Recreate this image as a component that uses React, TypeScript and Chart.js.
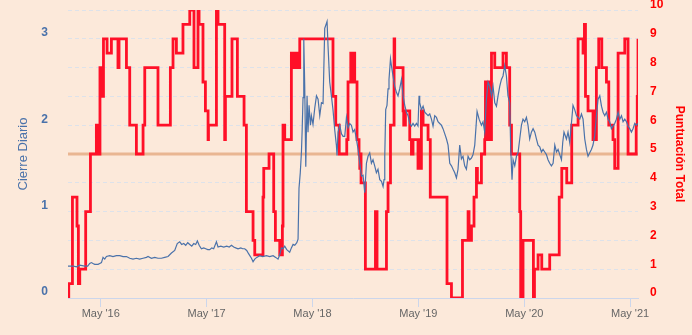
import React, { useEffect, useRef } from 'react';
import { Chart, registerables } from 'chart.js';

Chart.register(...registerables);

// ---- data (dates as decimal years) ----
const scoreDates = [
  2016.020, 2016.027, 2016.062, 2016.105, 2016.118, 2016.131, 2016.187, 2016.232, 2016.288, 2016.313,
  2016.322, 2016.332, 2016.355, 2016.389, 2016.430, 2016.492, 2016.502, 2016.572, 2016.603, 2016.666,
  2016.729, 2016.745, 2016.870, 2016.987, 2017.012, 2017.044, 2017.106, 2017.170, 2017.210, 2017.248,
  2017.258, 2017.295, 2017.318, 2017.343, 2017.347, 2017.422, 2017.437, 2017.500, 2017.507, 2017.569,
  2017.620, 2017.683, 2017.705, 2017.768, 2017.784, 2017.862, 2017.869, 2017.919, 2017.963, 2017.979,
  2018.020, 2018.029, 2018.039, 2018.045, 2018.051, 2018.067, 2018.130, 2018.140, 2018.149, 2018.159,
  2018.171, 2018.185, 2018.209, 2018.523, 2018.549, 2018.582, 2018.653, 2018.665, 2018.691, 2018.703,
  2018.712, 2018.728, 2018.750, 2018.769, 2018.776, 2018.782, 2018.788, 2018.829, 2018.924, 2018.939,
  2019.028, 2019.043, 2019.066, 2019.100, 2019.106, 2019.185, 2019.191, 2019.198, 2019.204, 2019.207,
  2019.248, 2019.264, 2019.279, 2019.326, 2019.336, 2019.345, 2019.358, 2019.374, 2019.421, 2019.442,
  2019.600, 2019.642, 2019.746, 2019.799, 2019.808, 2019.831, 2019.855, 2019.878, 2019.887, 2019.925,
  2019.956, 2019.963, 2019.972, 2019.982, 2019.991, 2020.001, 2020.010, 2020.020, 2020.051, 2020.129,
  2020.161, 2020.192, 2020.209, 2020.287, 2020.296, 2020.318, 2020.416, 2020.426, 2020.460, 2020.495,
  2020.570, 2020.660, 2020.684, 2020.731, 2020.778, 2020.838, 2020.885, 2020.898, 2020.908, 2020.932,
  2020.979, 2020.989, 2020.998, 2021.011, 2021.033, 2021.062, 2021.106, 2021.128, 2021.168, 2021.184,
  2021.216, 2021.279, 2021.310, 2021.387, 2021.397, 2021.404,
];
const scoreValues = [
  0, 0.5, 3.5, 2.5, 0.5, 1, 3, 5, 6, 5,
  8, 7, 9, 8.5, 9, 8, 9, 8, 6, 5,
  6, 8, 6, 8, 9, 8.5, 9.5, 10, 8, 10,
  9.5, 7.5, 6.5, 5.5, 6, 10, 9.5, 5.5, 7, 9,
  7, 6, 3, 2, 1.5, 3.5, 4.5, 5, 3, 2,
  1.5, 2, 1.5, 2.5, 6, 5.5, 8.5, 8, 8.5, 8,
  8.5, 8, 9, 7, 6, 5, 5.5, 7.5, 8.5, 7.5,
  8.5, 7.5, 5.5, 5, 4.5, 5, 4, 1, 3, 1,
  3, 4, 6, 9, 8, 6.5, 6, 6.5, 6, 6.5,
  5.5, 5, 5.5, 4.5, 5.5, 4.5, 6.5, 6, 5.5, 3.5,
  0.5, 0, 2, 3, 2, 2.5, 3.5, 4.5, 4, 5,
  5.5, 7.5, 5.5, 7.5, 5.5, 7.5, 5.5, 8.5, 8, 8.5,
  8, 6, 5, 3, 0, 2, 0, 1, 1.5, 1,
  1.5, 3.5, 4.5, 4, 6, 9, 8.5, 9.5, 7, 6.5,
  5.5, 6.5, 5.5, 8, 9, 8, 7.5, 6, 5.5, 4.5,
  8.5, 9, 5, 6, 7, 9,
];

const closeDates = [
  2016.020, 2016.067, 2016.100, 2016.131, 2016.178, 2016.206, 2016.225, 2016.241, 2016.256, 2016.272,
  2016.304, 2016.320, 2016.336, 2016.351, 2016.367, 2016.383, 2016.414, 2016.445, 2016.477, 2016.509,
  2016.540, 2016.572, 2016.603, 2016.634, 2016.666, 2016.697, 2016.729, 2016.761, 2016.776, 2016.808,
  2016.839, 2016.870, 2016.902, 2016.934, 2016.965, 2016.997, 2017.028, 2017.052, 2017.075, 2017.094,
  2017.113, 2017.132, 2017.151, 2017.170, 2017.189, 2017.208, 2017.226, 2017.242, 2017.259, 2017.280,
  2017.302, 2017.321, 2017.340, 2017.359, 2017.378, 2017.396, 2017.422, 2017.437, 2017.463, 2017.491,
  2017.519, 2017.543, 2017.564, 2017.585, 2017.604, 2017.626, 2017.652, 2017.670, 2017.689, 2017.708,
  2017.727, 2017.753, 2017.768, 2017.784, 2017.803, 2017.831, 2017.859, 2017.894, 2017.925, 2017.957,
  2017.982, 2018.004, 2018.020, 2018.036, 2018.051, 2018.067, 2018.086, 2018.114, 2018.130, 2018.146,
  2018.162, 2018.181, 2018.193, 2018.202, 2018.214, 2018.225, 2018.232, 2018.240, 2018.247, 2018.256,
  2018.266, 2018.278, 2018.287, 2018.297, 2018.310, 2018.319, 2018.334, 2018.351, 2018.367, 2018.382,
  2018.398, 2018.414, 2018.429, 2018.445, 2018.467, 2018.476, 2018.492, 2018.508, 2018.523, 2018.539,
  2018.555, 2018.561, 2018.571, 2018.587, 2018.603, 2018.618, 2018.634, 2018.650, 2018.665, 2018.681,
  2018.697, 2018.712, 2018.728, 2018.744, 2018.760, 2018.776, 2018.792, 2018.807, 2018.823, 2018.839,
  2018.854, 2018.870, 2018.886, 2018.901, 2018.917, 2018.933, 2018.948, 2018.965, 2018.981, 2018.996,
  2019.005, 2019.012, 2019.021, 2019.033, 2019.043, 2019.052, 2019.066, 2019.075, 2019.090, 2019.106,
  2019.122, 2019.137, 2019.153, 2019.170, 2019.185, 2019.201, 2019.217, 2019.232, 2019.248, 2019.264,
  2019.279, 2019.295, 2019.311, 2019.326, 2019.336, 2019.342, 2019.358, 2019.374, 2019.390, 2019.406,
  2019.421, 2019.437, 2019.453, 2019.468, 2019.484, 2019.500, 2019.515, 2019.531, 2019.547, 2019.562,
  2019.579, 2019.595, 2019.610, 2019.626, 2019.642, 2019.657, 2019.673, 2019.689, 2019.704, 2019.720,
  2019.736, 2019.751, 2019.767, 2019.783, 2019.799, 2019.815, 2019.831, 2019.846, 2019.862, 2019.884,
  2019.903, 2019.925, 2019.940, 2019.956, 2019.972, 2019.988, 2020.004, 2020.020, 2020.035, 2020.051,
  2020.067, 2020.082, 2020.098, 2020.114, 2020.129, 2020.145, 2020.161, 2020.176, 2020.192, 2020.202,
  2020.214, 2020.224, 2020.240, 2020.256, 2020.271, 2020.287, 2020.303, 2020.318, 2020.334, 2020.350,
  2020.365, 2020.381, 2020.397, 2020.413, 2020.429, 2020.445, 2020.460, 2020.476, 2020.492, 2020.507,
  2020.523, 2020.539, 2020.554, 2020.570, 2020.586, 2020.602, 2020.618, 2020.634, 2020.649, 2020.665,
  2020.681, 2020.693, 2020.705, 2020.728, 2020.743, 2020.759, 2020.775, 2020.790, 2020.806, 2020.823,
  2020.838, 2020.854, 2020.870, 2020.885, 2020.901, 2020.917, 2020.932, 2020.948, 2020.964, 2020.979,
  2020.995, 2021.011, 2021.027, 2021.043, 2021.059, 2021.074, 2021.090, 2021.106, 2021.121, 2021.137,
  2021.153, 2021.168, 2021.184, 2021.200, 2021.216, 2021.232, 2021.248, 2021.263, 2021.279, 2021.295,
  2021.310, 2021.326, 2021.342, 2021.357, 2021.373, 2021.389, 2021.404,
];
const closeValues = [
  0.37, 0.37, 0.36, 0.38, 0.37, 0.37, 0.40, 0.41, 0.40, 0.39,
  0.39, 0.40, 0.41, 0.47, 0.45, 0.48, 0.49, 0.48, 0.49, 0.49,
  0.48, 0.48, 0.46, 0.45, 0.46, 0.45, 0.46, 0.47, 0.48, 0.46,
  0.47, 0.46, 0.46, 0.47, 0.48, 0.52, 0.55, 0.63, 0.65, 0.62,
  0.63, 0.61, 0.64, 0.62, 0.60, 0.63, 0.62, 0.66, 0.61, 0.57,
  0.58, 0.57, 0.56, 0.56, 0.58, 0.57, 0.65, 0.59, 0.60, 0.59,
  0.60, 0.59, 0.61, 0.59, 0.58, 0.57, 0.58, 0.57, 0.57, 0.55,
  0.51, 0.46, 0.42, 0.45, 0.47, 0.49, 0.48, 0.49, 0.48, 0.49,
  0.47, 0.45, 0.50, 0.58, 0.57, 0.60, 0.56, 0.53, 0.58, 0.62,
  0.61, 0.64, 0.68, 1.27, 1.45, 1.69, 1.95, 2.32, 3.00, 2.45,
  1.52, 2.34, 1.92, 2.23, 2.00, 2.11, 2.01, 2.20, 2.34, 2.30,
  2.11, 2.26, 2.25, 3.12, 3.20, 2.92, 2.50, 2.34, 2.18, 1.95,
  1.77, 1.65, 1.92, 2.00, 1.90, 1.87, 1.87, 2.09, 1.97, 2.02,
  2.00, 1.92, 1.95, 1.84, 1.72, 1.56, 1.41, 1.42, 1.22, 1.56,
  1.64, 1.68, 1.56, 1.60, 1.53, 1.45, 1.49, 1.37, 1.35, 1.29,
  1.37, 1.64, 2.18, 2.23, 2.42, 2.53, 2.77, 2.69, 2.57, 2.45,
  2.38, 2.34, 2.42, 2.53, 2.34, 2.23, 2.15, 2.11, 2.02, 1.99,
  2.02, 1.99, 2.02, 1.99, 2.34, 2.26, 2.18, 2.22, 2.15, 2.13,
  2.11, 2.13, 2.07, 1.99, 2.11, 2.09, 2.04, 2.02, 2.00, 1.96,
  1.90, 1.84, 1.77, 1.56, 1.53, 1.49, 1.45, 1.39, 1.49, 1.77,
  1.61, 1.64, 1.53, 1.49, 1.64, 1.60, 1.62, 1.66, 1.77, 2.16,
  2.07, 2.00, 2.04, 1.92, 2.30, 2.50, 2.45, 2.34, 2.45, 2.26,
  2.22, 2.34, 2.45, 2.53, 2.57, 2.69, 2.57, 2.34, 2.26, 1.72,
  1.37, 1.60, 1.53, 1.64, 1.68, 1.84, 2.00, 2.07, 2.04, 2.09,
  2.00, 1.84, 1.92, 1.96, 1.92, 1.84, 1.77, 1.75, 1.69, 1.72,
  1.69, 1.66, 1.60, 1.56, 1.53, 1.56, 1.77, 1.69, 1.72, 1.66,
  1.60, 1.80, 1.92, 1.84, 1.92, 1.80, 2.02, 2.23, 2.18, 2.11,
  2.09, 2.07, 2.13, 2.07, 1.84, 1.72, 1.64, 1.68, 1.72, 1.77,
  1.88, 2.11, 2.30, 2.34, 2.22, 2.15, 2.11, 2.15, 2.07, 2.04,
  1.96, 1.99, 2.02, 2.07, 2.15, 2.07, 2.11, 2.04, 2.07, 2.04,
  1.99, 1.96, 1.92, 1.96, 2.02, 2.00, 2.02,
];

const xTickValues = [2016.329, 2017.329, 2018.329, 2019.329, 2020.330, 2021.329];
const xTickLabels = ["May '16", "May '17", "May '18", "May '19", "May '20", "May '21"];
const leftTicks = [0, 1, 2, 3];
const thresholdScore = 5;

const X_MIN = 2016.020;
const X_MAX = 2021.404;

const FONT = "'Liberation Sans', Arial, Helvetica, sans-serif";
const BG = '#fce9da';
const BLUE = '#4a72aa';
const RED = '#ff1028';
const AXIS = '#ccd6eb';

export default function App() {
  const ref = useRef<HTMLCanvasElement>(null);

  useEffect(() => {
    document.body.style.margin = '0';
    const canvas = ref.current;
    if (!canvas) return;

    const bgPlugin = {
      id: 'bgFill',
      beforeDraw(chart: any) {
        const { ctx, width, height } = chart;
        ctx.save();
        ctx.fillStyle = BG;
        ctx.fillRect(0, 0, width, height);
        ctx.restore();
      },
    };

    const thresholdPlugin = {
      id: 'threshold',
      beforeDatasetsDraw(chart: any) {
        const { ctx, chartArea } = chart;
        const y = chart.scales.yR.getPixelForValue(thresholdScore);
        ctx.save();
        ctx.strokeStyle = '#e9b692';
        ctx.lineWidth = 3;
        ctx.beginPath();
        ctx.moveTo(chartArea.left, y);
        ctx.lineTo(chartArea.right, y);
        ctx.stroke();
        ctx.restore();
      },
    };

    const zeroVPad = (s: any) => {
      s.paddingTop = 0;
      s.paddingBottom = 0;
    };

    const chart = new Chart(canvas, {
      type: 'line',
      data: {
        datasets: [
          {
            label: 'Cierre Diario',
            data: closeDates.map((t, i) => ({ x: t, y: closeValues[i] })),
            yAxisID: 'yL',
            borderColor: BLUE,
            borderWidth: 1.2,
            tension: 0,
            pointRadius: 0,
            fill: false,
          },
          {
            label: 'Puntuación Total',
            data: scoreDates.map((t, i) => ({ x: t, y: scoreValues[i] })),
            yAxisID: 'yR',
            borderColor: RED,
            borderWidth: 2.8,
            stepped: true,
            pointRadius: 0,
            fill: false,
          },
        ],
      },
      options: {
        responsive: false,
        animation: false,
        devicePixelRatio: 1,
        layout: { padding: { top: 10, left: 0, right: 0, bottom: 0 } },
        plugins: {
          legend: { display: false },
          tooltip: { enabled: false },
        },
        scales: {
          x: {
            type: 'linear',
            min: X_MIN,
            max: X_MAX,
            afterBuildTicks: (s: any) => {
              s.ticks = xTickValues.map((v) => ({ value: v }));
            },
            afterFit: (s: any) => {
              s.height = 37;
              s.paddingLeft = 0;
              s.paddingRight = 0;
            },
            grid: { drawOnChartArea: false, drawTicks: true, tickLength: 9, color: AXIS },
            border: { display: true, color: AXIS, width: 1 },
            ticks: {
              color: '#666666',
              font: { family: FONT, size: 11 },
              padding: 0,
              maxRotation: 0,
              autoSkip: false,
              callback: (_v: any, i: number) => xTickLabels[i],
            },
          },
          yL: {
            type: 'linear',
            position: 'left',
            min: 0,
            max: 10 / 3,
            afterBuildTicks: (s: any) => {
              s.ticks = leftTicks.map((v) => ({ value: v }));
            },
            afterFit: (s: any) => {
              s.width = 68;
              zeroVPad(s);
            },
            grid: { display: false, drawTicks: false },
            border: { display: false },
            ticks: {
              color: BLUE,
              font: { family: FONT, size: 12, weight: 'bold' },
              padding: 20,
              labelOffset: -6,
            },
            title: {
              display: true,
              text: 'Cierre Diario',
              color: BLUE,
              font: { family: FONT, size: 13 },
              padding: { top: 16, bottom: 0 },
            },
          },
          yR: {
            type: 'linear',
            position: 'right',
            min: 0,
            max: 10,
            afterFit: (s: any) => {
              s.width = 54;
              zeroVPad(s);
            },
            grid: {
              drawOnChartArea: true,
              drawTicks: false,
              color: '#dde2ea',
              lineWidth: 1,
            },
            border: { display: false, dash: [4, 3] },
            ticks: {
              stepSize: 1,
              color: '#ff0000',
              font: { family: FONT, size: 12, weight: 'bold' },
              padding: 12,
              labelOffset: -5,
            },
            title: {
              display: true,
              text: 'Puntuación Total',
              color: '#ff0000',
              font: { family: FONT, size: 12, weight: 'bold' },
              padding: { top: 5, bottom: 0 },
            },
          },
        },
      } as any,
      plugins: [bgPlugin, thresholdPlugin],
    });

    return () => chart.destroy();
  }, []);

  return (
    <canvas
      ref={ref}
      width={692}
      height={335}
      style={{ display: 'block', position: 'absolute', left: 0, top: 0 }}
    />
  );
}
